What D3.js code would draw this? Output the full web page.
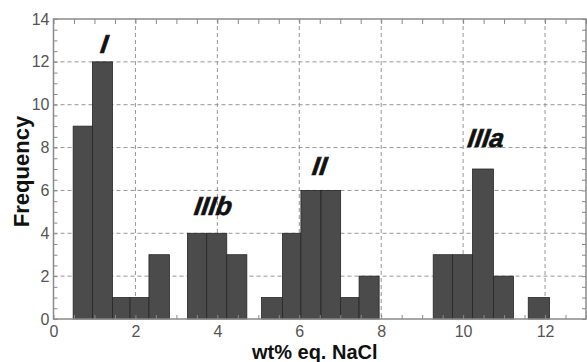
<!DOCTYPE html>
<html><head><meta charset="utf-8">
<script src="https://cdn.jsdelivr.net/npm/d3@7"></script>
<style>body{margin:0;background:#fff}svg{display:block}</style>
</head><body>
<svg id="c" width="587" height="362"></svg>
<script>
// bin edges (wt% eq. NaCl) and frequencies
const binStart = [0.48,0.95,1.44,1.87,2.33, 3.27,3.74,4.23, 5.08,5.59,6.04,6.53,7.01,7.46, 9.27,9.74,10.23,10.74, 11.59];
const binEnd   = [0.95,1.44,1.87,2.33,2.83, 3.74,4.23,4.72, 5.59,6.04,6.53,7.01,7.46,7.95, 9.74,10.23,10.74,11.23, 12.11];
const freq     = [9,12,1,1,3, 4,4,3, 1,4,6,6,1,2, 3,3,7,2, 1];
const xTicks = [0,2,4,6,8,10,12];
const yTicks = [0,2,4,6,8,10,12,14];
const groupNames = ["I","IIIb","II","IIIa"];
const groupX = [1.21,3.87,6.47,10.53];
const groupY = [12.41,4.85,6.72,8.03];

const svg = d3.select("#c");
const L=53.5, R=586, T=19, B=319;
const x = d3.scaleLinear().domain([0,13]).range([L,R]);
const y = d3.scaleLinear().domain([0,14]).range([B,T]);

// grid
const grid = svg.append("g").attr("stroke","#8a8a8a").attr("stroke-width",0.9).attr("stroke-dasharray","4,3");
grid.selectAll("line.gx").data(xTicks.filter(d=>d>0)).join("line")
  .attr("x1",d=>x(d)).attr("x2",d=>x(d)).attr("y1",T).attr("y2",B);
grid.selectAll("line.gy").data(yTicks.filter(d=>d>0&&d<14)).join("line")
  .attr("x1",L).attr("x2",R).attr("y1",d=>y(d)).attr("y2",d=>y(d));

// bars
svg.append("g").selectAll("rect").data(freq).join("rect")
  .attr("x",(d,i)=>x(binStart[i]))
  .attr("width",(d,i)=>x(binEnd[i])-x(binStart[i]))
  .attr("y",d=>y(d)).attr("height",d=>y(0)-y(d))
  .attr("fill","#4b4b4b").attr("stroke","#262626").attr("stroke-width",0.8);

// axes with inward minor ticks
const minorX = d3.range(0,13.01,0.5);
const minorY = d3.range(0,14.01,0.5);
const tickStyle = g=>{g.select(".domain").remove(); g.selectAll(".tick line").attr("stroke","#8a8a8a");};
svg.append("g").attr("transform",`translate(0,${B})`)
  .call(d3.axisBottom(x).tickValues(minorX).tickSize(-4).tickFormat(""))
  .call(tickStyle);
svg.append("g").attr("transform",`translate(0,${T})`)
  .call(d3.axisTop(x).tickValues(minorX).tickSize(-5).tickFormat(""))
  .call(tickStyle);
svg.append("g").attr("transform",`translate(${L},0)`)
  .call(d3.axisLeft(y).tickValues(minorY).tickSize(-4).tickFormat(""))
  .call(tickStyle);
svg.append("g").attr("transform",`translate(${R},0)`)
  .call(d3.axisRight(y).tickValues(minorY).tickSize(-4).tickFormat(""))
  .call(tickStyle);

// tick labels
const font = "'Liberation Sans', Arial, sans-serif";
svg.append("g").attr("transform",`translate(0,${B})`)
  .call(d3.axisBottom(x).tickValues(xTicks).tickSize(0).tickPadding(7).tickFormat(d3.format("d")))
  .call(g=>{g.select(".domain").remove();
    g.selectAll("text").attr("font-family",font).attr("font-size",16).attr("fill","#555");});
svg.append("g").attr("transform",`translate(${L},0)`)
  .call(d3.axisLeft(y).tickValues(yTicks).tickSize(0).tickPadding(4).tickFormat(d3.format("d")))
  .call(g=>{g.select(".domain").remove();
    g.selectAll("text").attr("font-family",font).attr("font-size",16).attr("fill","#555");});

// frame
svg.append("rect").attr("x",L).attr("y",T).attr("width",R-L).attr("height",B-T)
  .attr("fill","none").attr("stroke","#8a8a8a").attr("stroke-width",1.5);

// group labels
svg.append("g").selectAll("text").data(groupNames).join("text")
  .attr("transform",(d,i)=>`translate(${x(groupX[i])},${y(groupY[i])}) skewX(-8)`)
  .attr("text-anchor","middle").attr("font-family",font)
  .attr("font-size",26).attr("font-weight","bold").attr("font-style","italic")
  .attr("fill","#111").attr("stroke","#111").attr("stroke-width",0.6).text(d=>d);

// axis titles
svg.append("text").attr("x",(L+R)/2+ -5).attr("y",358.5).attr("text-anchor","middle")
  .attr("font-family",font).attr("font-size",20).attr("font-weight","bold").attr("fill","#111")
  .text("wt% eq. NaCl");
svg.append("text").attr("transform","translate(29,171.5) rotate(-90)").attr("text-anchor","middle")
  .attr("font-family",font).attr("font-size",22).attr("font-weight","bold").attr("fill","#111")
  .text("Frequency");
</script>
</body></html>
